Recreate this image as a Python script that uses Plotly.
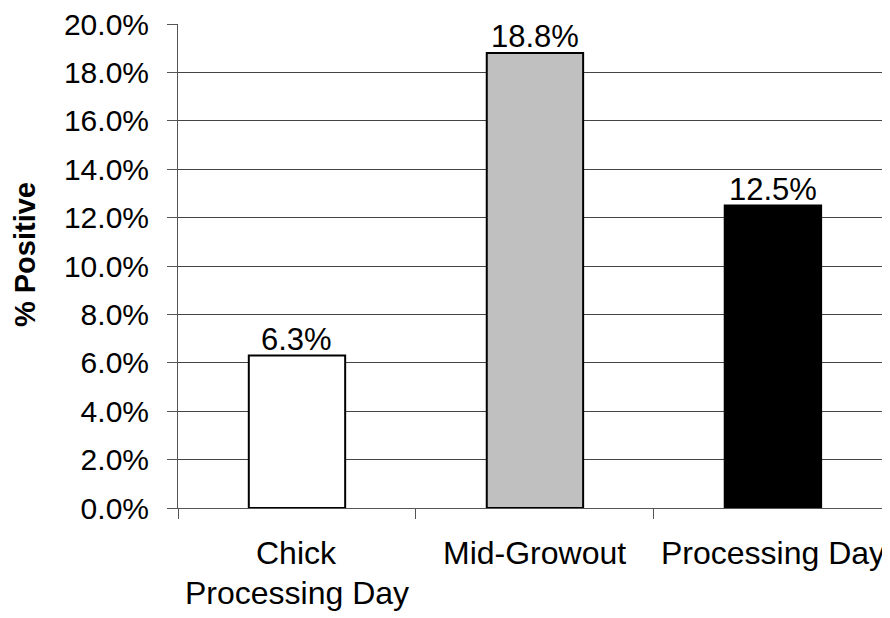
import plotly.graph_objects as go

categories = ["Chick Processing Day", "Mid-Growout", "Processing Day"]
label_lines = [["Chick", "Processing Day"], ["Mid-Growout"], ["Processing Day"]]
values = [6.3, 18.8, 12.5]
value_labels = ["6.3%", "18.8%", "12.5%"]
bar_colors = ["#FFFFFF", "#C0C0C0", "#000000"]
y_ticks = [0, 2, 4, 6, 8, 10, 12, 14, 16, 18, 20]
y_tick_labels = [f"{v:.1f}%" for v in y_ticks]

FONT = "Liberation Sans, Arial, sans-serif"

# page has an 8px body margin, so the figure is slightly smaller than the window
W, H = 882, 610
L, R, T, B = 170, 0, 12, 110
pw, ph = W - L - R, H - T - B

fig = go.Figure()
fig.add_trace(go.Bar(
    x=categories, y=values,
    marker=dict(color=bar_colors, line=dict(color="#000000", width=2)),
    width=0.405,
    hoverinfo="skip",
))

annotations = []
for c, v, t in zip(categories, values, value_labels):
    annotations.append(dict(x=c, y=v, xref="x", yref="y", text=t, showarrow=False,
                            yanchor="bottom", yshift=-3,
                            font=dict(family=FONT, size=31, color="#000000")))
for c, lines in zip(categories, label_lines):
    for i, line in enumerate(lines):
        annotations.append(dict(x=c, y=0, xref="x", yref="paper", text=line, showarrow=False,
                                yanchor="middle", yshift=-45 - 40 * i,
                                font=dict(family=FONT, size=32, color="#000000")))
annotations.append(dict(x=(17 - L) / pw, y=(H - B - 245) / ph, xref="paper", yref="paper",
                        text="<b>% Positive</b>",
                        showarrow=False, textangle=-90, xanchor="center", yanchor="middle",
                        font=dict(family=FONT, size=29, color="#000000")))

fig.update_layout(
    width=W, height=H,
    margin=dict(l=L, r=R, t=T, b=B, pad=0),
    plot_bgcolor="#FFFFFF", paper_bgcolor="#FFFFFF",
    showlegend=False,
    annotations=annotations,
    font=dict(family=FONT, color="#000000"),
    xaxis=dict(
        range=[-0.5, 2.492],
        tickson="boundaries",
        ticks="outside", ticklen=10, tickcolor="#555555", tickwidth=1,
        showticklabels=False,
        showline=True, linecolor="#555555", linewidth=1,
        showgrid=False, zeroline=False,
    ),
    yaxis=dict(
        range=[0, 20.001],
        tickmode="array", tickvals=y_ticks, ticktext=y_tick_labels,
        ticks="outside", ticklen=10, tickcolor="#555555", tickwidth=1,
        ticklabelstandoff=12,
        ticklabeloverflow="allow",
        tickfont=dict(family=FONT, size=30, color="#000000"),
        showline=True, linecolor="#555555", linewidth=1,
        showgrid=True, gridcolor="#444444", gridwidth=1,
        zeroline=False,
    ),
)

fig.write_html("out.html")
